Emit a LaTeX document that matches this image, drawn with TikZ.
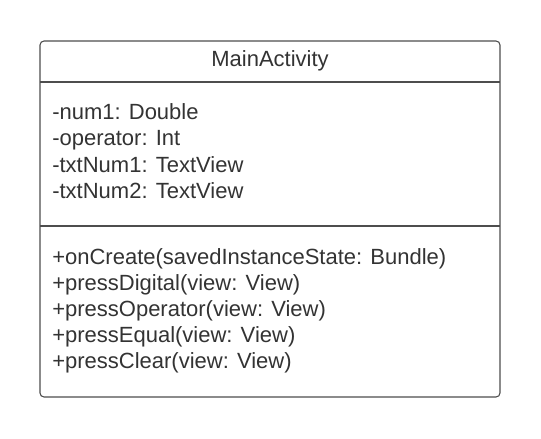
\documentclass[tikz,border=0pt]{standalone}
\usepackage{fontspec}
\setmainfont{Liberation Sans}
\usetikzlibrary{positioning}

\definecolor{umltext}{HTML}{333333}
\definecolor{umlline}{HTML}{4D4D4D}

\begin{document}
\begin{tikzpicture}[
    x=0.75pt, y=-0.75pt,
    classbox/.style={draw=umlline, line width=0.8pt, rounded corners=3pt,
                     minimum width=345pt, minimum height=267pt, inner sep=0pt},
    member/.style={anchor=west, inner sep=0pt, text=umltext,
                   font=\fontsize{16.5}{20}\selectfont,
                   text height=12pt, text depth=0pt},
    classname/.style={member, anchor=center},
    divider/.style={draw=umlline, line width=0.8pt},
]

\useasboundingbox (0,0) rectangle (541,438);

% ===================== CLASS FRAME =====================
\node[classbox] (frame) at (270, 219) {};
\coordinate (headL) at (40, 82);
\coordinate (headR) at (500, 82);
\coordinate (attrL) at (40, 226);
\coordinate (attrR) at (500, 226);
\draw[divider] (headL) -- (headR);
\draw[divider] (attrL) -- (attrR);

% ===================== NAME =====================
\node[classname] (name) at (270, 59) {MainActivity};

% ===================== ATTRIBUTES =====================
\foreach \r/\t in {0/{-num1: Double}, 1/{-operator: Int},
                   2/{-txtNum1: TextView}, 3/{-txtNum2: TextView}} {
    \node[member] (attr\r) at (52, 112 + \r*26) {\t};
}

% ===================== METHODS =====================
\foreach \r/\t in {0/{+onCreate(savedInstanceState: Bundle)},
                   1/{+pressDigital(view: View)},
                   2/{+pressOperator(view: View)},
                   3/{+pressEqual(view: View)},
                   4/{+pressClear(view: View)}} {
    \node[member] (op\r) at (52, 256 + \r*26) {\t};
}

\end{tikzpicture}
\end{document}
